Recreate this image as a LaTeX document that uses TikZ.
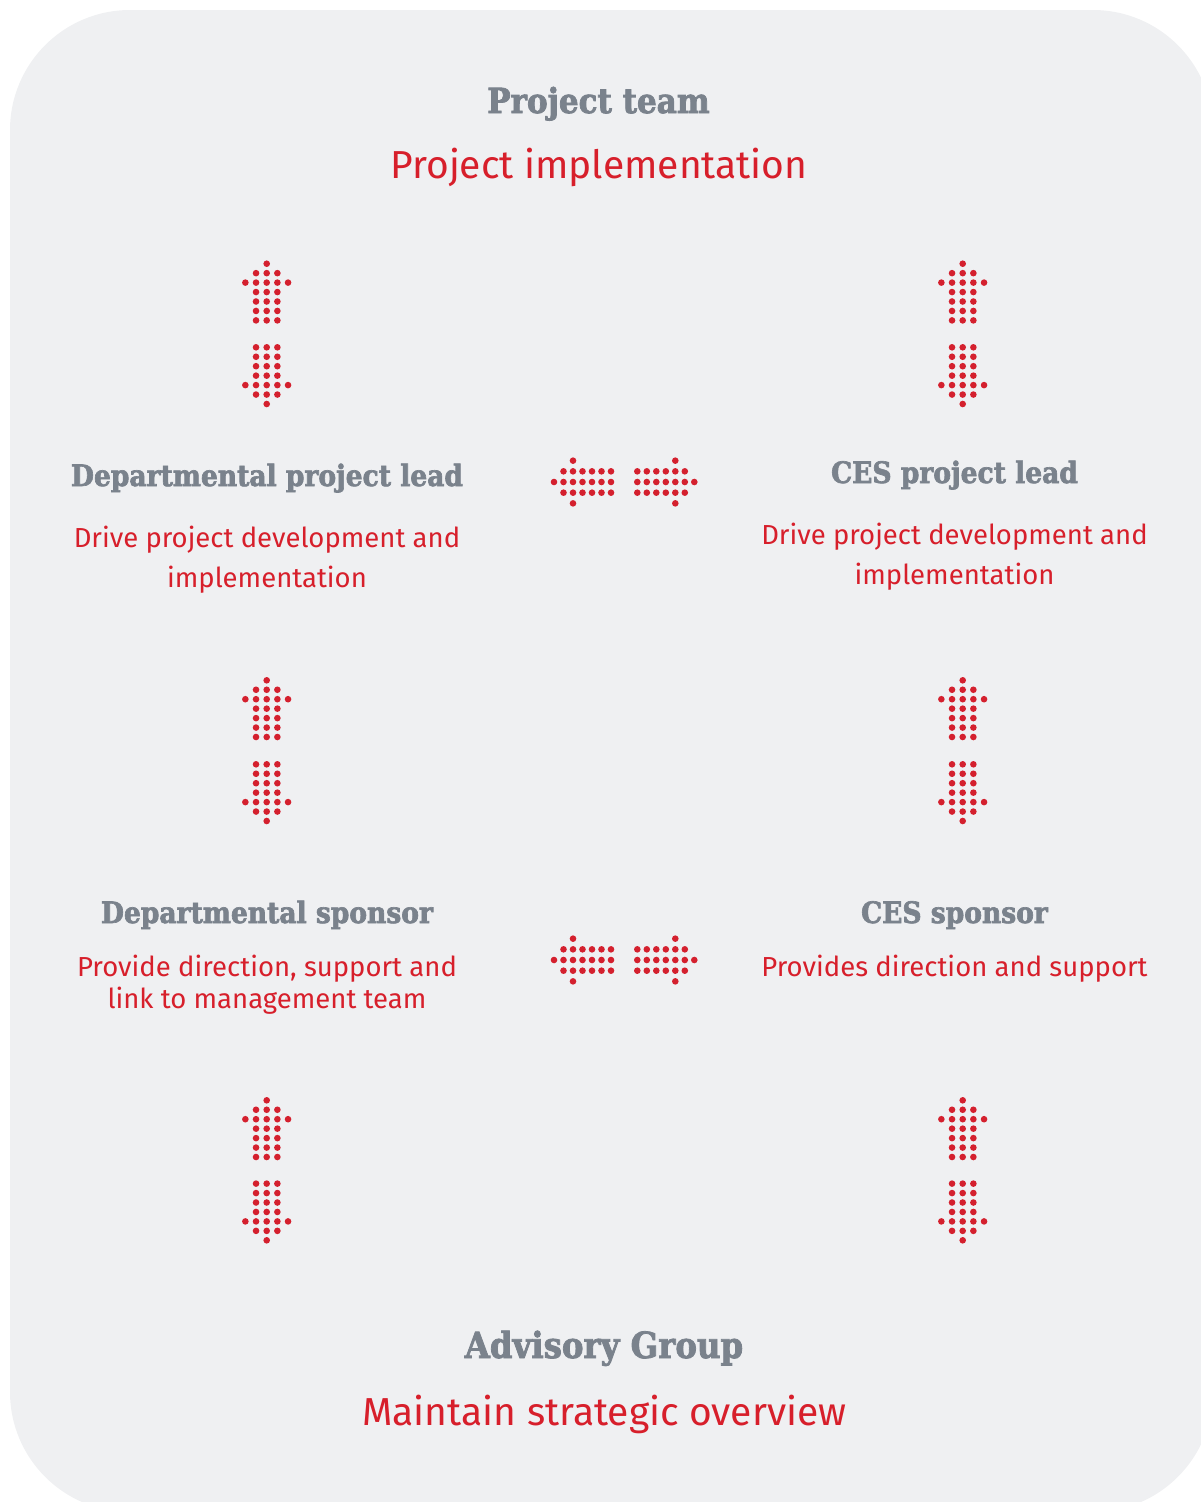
\documentclass[tikz,border=0pt]{standalone}
\usepackage{fontspec}
\setmainfont{Fira Sans}
\newfontfamily\slabfont{DejaVuSerifCondensed-Bold.ttf}[FakeBold=2.2]
\definecolor{panelbg}{HTML}{EFF0F2}
\definecolor{headgray}{HTML}{7A828C}
\definecolor{rolered}{HTML}{D71F2B}
\definecolor{dotred}{HTML}{D4202E}

\tikzset{
  head/.style={anchor=base, text=headgray, font=\slabfont\fontsize{29.5}{34}\selectfont, inner sep=0pt},
  bighead/.style={head, font=\slabfont\fontsize{34.5}{40}\selectfont},
  role/.style={anchor=base, text=rolered, font=\fontsize{27.5}{40}\selectfont, inner sep=0pt, align=center},
  bigrole/.style={role, font=\fontsize{39}{46}\selectfont},
  dot/.style={fill=dotred},
}

% dotted arrow glyphs: tip given as a named coordinate
\newcommand\dotsup[1]{%
  \foreach \k/\c in {0/0,1/-1,1/0,1/1,2/-2,2/-1,2/0,2/1,2/2,3/-1,3/0,3/1,4/-1,4/0,4/1,5/-1,5/0,5/1,6/-1,6/0,6/1}
    \fill[dot] ([shift={(\c*10.67,\k*9.45)}]#1) circle (3.3pt);}
\newcommand\dotsdown[1]{%
  \foreach \k/\c in {0/0,1/-1,1/0,1/1,2/-2,2/-1,2/0,2/1,2/2,3/-1,3/0,3/1,4/-1,4/0,4/1,5/-1,5/0,5/1,6/-1,6/0,6/1}
    \fill[dot] ([shift={(\c*10.67,-\k*9.45)}]#1) circle (3.3pt);}
\newcommand\dotsleft[1]{%
  \foreach \k/\c in {0/0,1/-1,1/0,1/1,2/-2,2/-1,2/0,2/1,2/2,3/-1,3/0,3/1,4/-1,4/0,4/1,5/-1,5/0,5/1,6/-1,6/0,6/1}
    \fill[dot] ([shift={(\k*9.5,\c*10.67)}]#1) circle (3.3pt);}
\newcommand\dotsright[1]{%
  \foreach \k/\c in {0/0,1/-1,1/0,1/1,2/-2,2/-1,2/0,2/1,2/2,3/-1,3/0,3/1,4/-1,4/0,4/1,5/-1,5/0,5/1,6/-1,6/0,6/1}
    \fill[dot] ([shift={(-\k*9.5,\c*10.67)}]#1) circle (3.3pt);}

\begin{document}
\begin{tikzpicture}[x=1pt, y=-1pt]
\useasboundingbox (0,0) rectangle (1200,1502);
\fill[panelbg, rounded corners=120pt] (10,10) rectangle (1213,1512);

% headings and roles (multi-line nodes sit on the baseline of their last line)
\node[bighead] (team) at (598.5,113) {Project team};
\node[bigrole] (teamrole) at (599,178) {Project implementation};

\node[head] (dlead) at (267,486) {Departmental project lead};
\node[role] (dleadrole) at (267,587) {Drive project development and\\implementation};

\node[head] (clead) at (954.5,483) {CES project lead};
\node[role] (cleadrole) at (954.5,584) {Drive project development and\\implementation};

\node[head] (dspon) at (267,923) {Departmental sponsor};
\node[role, font=\fontsize{27.5}{32}\selectfont] (dsponrole) at (267,1008) {Provide direction, support and\\link to management team};

\node[head] (cspon) at (954.5,923) {CES sponsor};
\node[role] (csponrole) at (954.5,976) {Provides direction and support};

\node[bighead, font=\slabfont\fontsize{36}{42}\selectfont] (adv) at (604,1358) {Advisory Group};
\node[bigrole] (advrole) at (604.5,1425) {Maintain strategic overview};

% arrow tips
\coordinate (lu1) at (266.7,263.7);  \coordinate (ld1) at (266.7,404);
\coordinate (lu2) at (266.7,680.3);  \coordinate (ld2) at (266.7,821);
\coordinate (lu3) at (266.7,1100.3); \coordinate (ld3) at (266.7,1240.3);
\coordinate (ru1) at (962.7,263.7);  \coordinate (rd1) at (962.7,404);
\coordinate (ru2) at (962.7,680.3);  \coordinate (rd2) at (962.7,821);
\coordinate (ru3) at (962.7,1100.3); \coordinate (rd3) at (962.7,1240.3);
\coordinate (hl1) at (554,482);   \coordinate (hr1) at (694.3,482);
\coordinate (hl2) at (554,960);   \coordinate (hr2) at (694.3,960);

\dotsup{lu1} \dotsdown{ld1}
\dotsup{lu2} \dotsdown{ld2}
\dotsup{lu3} \dotsdown{ld3}
\dotsup{ru1} \dotsdown{rd1}
\dotsup{ru2} \dotsdown{rd2}
\dotsup{ru3} \dotsdown{rd3}
\dotsleft{hl1} \dotsright{hr1}
\dotsleft{hl2} \dotsright{hr2}
\end{tikzpicture}
\end{document}
